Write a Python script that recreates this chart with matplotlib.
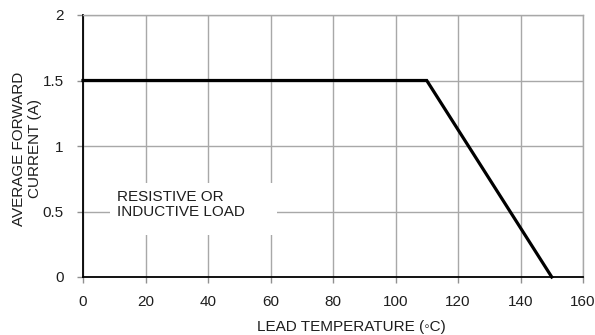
import matplotlib
matplotlib.use("Agg")
import matplotlib.pyplot as plt
from matplotlib.patches import Rectangle

plt.rcParams['font.family'] = ['Liberation Sans', 'DejaVu Sans']

temp = [0, 110, 150]
current = [1.5, 1.5, 0]
xticks = [0, 20, 40, 60, 80, 100, 120, 140, 160]
yticks = [0, 0.5, 1, 1.5, 2]
ytick_labels = ['0', '0.5', '1', '1.5', '2']

FS = 11
TXT = '#1e1e1e'

fig = plt.figure(figsize=(5.95, 3.35), dpi=100)
ax = fig.add_axes([83/595, 1 - 277/335, 500/595, 262/335])
ax.set_xlim(0, 160)
ax.set_ylim(0, 2)
ax.set_xticks(xticks)
ax.set_xticklabels([str(t) for t in xticks])
ax.set_yticks(yticks)
ax.set_yticklabels(ytick_labels)
ax.grid(True, color='#a8a8a8', linewidth=1.0, zorder=0)
ax.set_axisbelow(True)
for s in ['top', 'right']:
    ax.spines[s].set_color('#a8a8a8')
    ax.spines[s].set_linewidth(1.0)
for s in ['left', 'bottom']:
    ax.spines[s].set_color('black')
    ax.spines[s].set_linewidth(1.3)
ax.tick_params(axis='both', length=4, width=1.0, color='#909090', labelsize=FS, labelcolor=TXT)
ax.tick_params(axis='y', pad=10)
ax.tick_params(axis='x', pad=9)

ax.plot(temp, current, color='black', linewidth=2.3, zorder=5, clip_on=False, solid_joinstyle='miter')

# white box behind the annotation
ax.add_patch(Rectangle(((110-83)/500, (277-235)/262), (277-110)/500, (235-183)/262,
                       transform=ax.transAxes, facecolor='white', edgecolor='none', zorder=3))
ax.text(10.8, 0.55, 'RESISTIVE OR\nINDUCTIVE LOAD', fontsize=FS, color=TXT, va='center', ha='left',
        linespacing=1.1, zorder=4)

ax.set_xlabel('LEAD TEMPERATURE (◦C)', fontsize=FS, color=TXT)
ax.xaxis.set_label_coords((351-83)/500, -(327-277)/262)
ax.xaxis.label.set_va('center')
ax.set_ylabel('AVERAGE FORWARD\nCURRENT (A)', fontsize=FS, color=TXT, linespacing=1.15)
ax.yaxis.set_label_coords(-(83-27)/500, (277-149)/262)
ax.yaxis.label.set_va('center')

fig.savefig('out.png', dpi=100)
